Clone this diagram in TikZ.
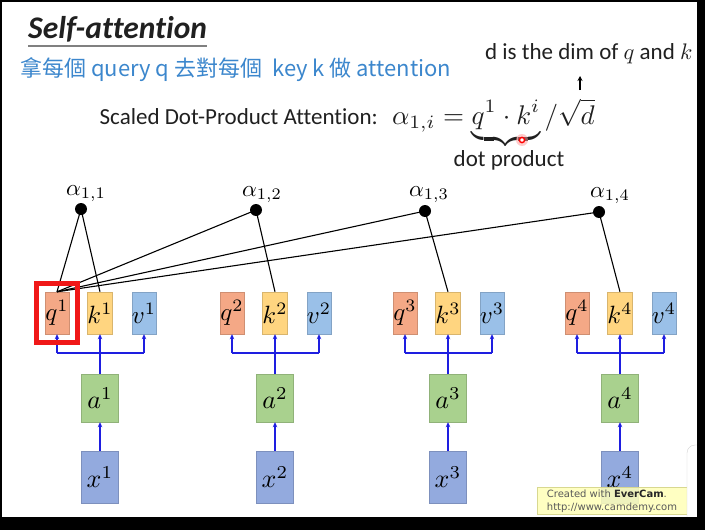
\documentclass[tikz,border=0pt]{standalone}
\usepackage[no-math]{fontspec}
\setmainfont{Carlito}[Ligatures=NoCommon]
\newfontfamily\cjk{Noto Sans CJK TC}
\newfontfamily\wmfont{DejaVu Sans}
\usetikzlibrary{arrows.meta,fit}
\newcommand{\mth}[2]{\scalebox{#1}{\fontsize{10}{12}\selectfont$#2$}}
\definecolor{qcol}{HTML}{F4A886}
\definecolor{kcol}{HTML}{FFD580}
\definecolor{vcol}{HTML}{9AC0E8}
\definecolor{acol}{HTML}{A9D18E}
\definecolor{xcol}{HTML}{93AADE}
\definecolor{zhblue}{HTML}{3C87CD}
\definecolor{arrblue}{HTML}{1E1EE0}
\definecolor{redbox}{HTML}{F01818}
\definecolor{txt}{HTML}{202020}
\definecolor{wmfill}{HTML}{FFFFB8}
\definecolor{wmdraw}{HTML}{D8D890}
\tikzset{
  vbox/.style={minimum width=24pt, minimum height=42pt, inner sep=0pt, line width=0.4pt},
  qbox/.style={vbox, fill=qcol, draw=qcol!85!black},
  kbox/.style={vbox, fill=kcol, draw=kcol!85!black},
  vvbox/.style={vbox, fill=vcol, draw=vcol!85!black},
  abox/.style={minimum width=37pt, minimum height=48pt, inner sep=0pt, fill=acol, draw=acol!85!black, line width=0.4pt},
  xbox/.style={minimum width=37pt, minimum height=52pt, inner sep=0pt, fill=xcol, draw=xcol!85!black, line width=0.4pt},
  barrow/.style={draw=arrblue, line width=1.4pt, -{Stealth[length=5pt,width=4.5pt]}},
  bline/.style={draw=arrblue, line width=1.4pt},
  kline/.style={draw=black, line width=1.1pt},
  adot/.style={circle, fill=black, inner sep=0pt, minimum size=12pt},
  alab/.style={anchor=base, inner sep=0pt},
}
\begin{document}
\begin{tikzpicture}[x=1pt,y=-1pt]
\useasboundingbox (0,0) rectangle (705,530);
\fill[white] (0,0) rectangle (705,530);

% title
\node[anchor=base west, inner sep=0pt, font=\fontsize{31.5}{31.5}\selectfont\bfseries\itshape, text=txt] (title) at (28,38) {Self-attention};
\draw[gray, line width=1.6pt] (title.south west |- 0,46) -- (title.south east |- 0,46);

\node[anchor=base west, inner sep=0pt, text=zhblue, font=\cjk\fontsize{22}{22}\selectfont] (zh) at (20,76)
  {拿每個 query q 去對每個\ \ key k 做 attention};

\node[anchor=base west, inner sep=0pt, text=txt, font=\fontsize{23}{23}\selectfont] (dim) at (485,59)
  {d is the dim of \mth{2.25}{q} and \mth{2.25}{k}};

\node[anchor=base east, inner sep=0pt, text=txt, font=\fontsize{23}{23}\selectfont] (sdpa) at (378,124)
  {Scaled Dot-Product Attention:};
\node[anchor=base west, inner sep=0pt, text=txt] (formula) at (392,124)
  {\mth{2.7}{\alpha_{1,i} = \underbrace{q^1\cdot k^i}/\sqrt{d}}};
\node[anchor=base, inner sep=0pt, text=txt, font=\fontsize{23}{23}\selectfont] (dp) at (509,166) {dot product};

\coordinate (arrB) at (580,90);
\coordinate (arrT) at (580,76);
\draw[line width=1.2pt, -{Stealth[length=5pt,width=5pt]}] (arrB) -- (arrT);

% laser pointer mark
\fill[red!40, opacity=0.5] (522,140) circle (6);
\draw[red, line width=1.4pt, fill=white] (522,140) circle (2.6);

% boxes
\foreach \i/\kx in {1/100,2/275,3/448,4/620} {
  \node[qbox] (q\i) at (\kx-43,313) {\mth{2.5}{q^{\i}}};
  \node[kbox] (k\i) at (\kx,313) {\mth{2.5}{k^{\i}}};
  \node[vvbox] (v\i) at (\kx+44,313) {\mth{2.5}{v^{\i}}};
  \node[abox] (a\i) at (\kx,398) {\mth{2.6}{a^{\i}}};
  \node[xbox] (x\i) at (\kx,477) {\mth{2.6}{x^{\i}}};
  \coordinate (j\i) at (\kx,353);
  \draw[barrow] (x\i.north) -- (a\i.south);
  \draw[barrow] (a\i.north) -- (k\i.south);
  \draw[bline] (q\i.south |- j\i) -- (v\i.south |- j\i);
  \draw[barrow] (q\i.south |- j\i) -- (q\i.south);
  \draw[barrow] (v\i.south |- j\i) -- (v\i.south);
}

% attention dots
\node[adot] (d1) at (81,209) {};
\node[adot] (d2) at (256,210) {};
\node[adot] (d3) at (425,211) {};
\node[adot] (d4) at (599,212) {};
\node[alab] (al1) at (86,195) {\mth{2.3}{\alpha_{1,1}}};
\node[alab] (al2) at (262,196) {\mth{2.3}{\alpha_{1,2}}};
\node[alab] (al3) at (429,196) {\mth{2.3}{\alpha_{1,3}}};
\node[alab] (al4) at (610,197) {\mth{2.3}{\alpha_{1,4}}};

\foreach \i in {1,2,3,4} {
  \draw[kline] (q1.north) -- (d\i.center);
  \draw[kline] (k\i.north) -- (d\i.center);
}

% red highlight
\node[draw=redbox, line width=5pt, fit=(q1), inner xsep=8.5pt, inner ysep=8.5pt] (hl) {};

% watermark
\node[fill=wmfill, draw=wmdraw, fill opacity=0.85, text opacity=1, minimum width=150pt, minimum height=27pt,
      inner sep=2pt, align=left, text=black!65, font=\wmfont\fontsize{10}{13}\selectfont] (wm) at (612,501)
  {Created with \textbf{\color{black!85}EverCam}.\\http://www.camdemy.com};

% side panel artefact
\draw[draw=gray!35, fill=white, rounded corners=8pt] (687,445) rectangle (730,560);

% black frame
\fill[black] (0,0) rectangle (705,2);
\fill[black] (0,0) rectangle (2,530);
\fill[black] (697,0) rectangle (705,530);
\fill[black] (0,517) rectangle (705,530);
\end{tikzpicture}
\end{document}
